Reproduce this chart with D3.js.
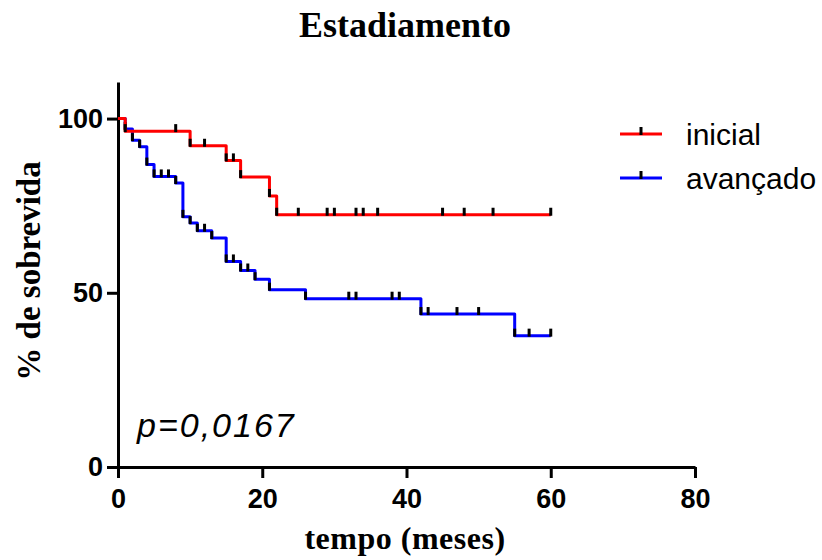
<!DOCTYPE html>
<html>
<head>
<meta charset="utf-8">
<script src="https://cdn.jsdelivr.net/npm/d3@7"></script>
<style>
  body { margin: 0; background: #fff; }
  svg text { fill: #000; }
</style>
</head>
<body>
<div id="chart"></div>
<script>
// survival steps (time in months, % survival after the drop)
var redTimes = [0, 1, 10, 15, 17, 21, 22];
var redSurv = [100, 96.4, 92.2, 88.0, 83.2, 77.8, 72.4];
var redCensor = [8, 12, 16, 25, 29, 30, 33, 34, 36, 45, 48, 52, 60];

var blueTimes = [0, 1, 2, 3, 4, 5, 8, 9, 10, 11, 13, 15, 17, 19, 21, 26, 42, 55];
var blueSurv = [100, 97.0, 93.8, 91.9, 86.8, 83.4, 81.5, 71.8, 70.0, 67.8, 65.7, 59.0, 56.4, 53.9, 50.9, 48.3, 43.9, 37.7];
var blueCensor = [6, 7, 12, 16, 18, 32, 33, 38, 39, 43, 47, 50, 57, 60];

var endTime = 60;
var xTicks = [0, 20, 40, 60, 80];
var yTicks = [0, 50, 100];
var groups = ["inicial", "avançado"];
var colors = ["#ff0000", "#0000ff"];

var width = 822, height = 560;

var svg = d3.select("#chart")
  .append("svg")
  .attr("width", width)
  .attr("height", height);

var x = d3.scaleLinear().domain([0, 80]).range([118, 695]);
var y = d3.scaleLinear().domain([0, 110.5]).range([467, 82]);

// title
svg.append("text")
  .attr("x", 405)
  .attr("y", 37)
  .attr("text-anchor", "middle")
  .style("font-family", "'Liberation Serif', 'Times New Roman', serif")
  .style("font-weight", "bold")
  .style("font-size", "36px")
  .text("Estadiamento");

// axes
var yAxis = svg.append("g")
  .attr("transform", "translate(" + x(0) + ",0)")
  .call(d3.axisLeft(y).tickValues(yTicks).tickSize(11).tickSizeOuter(0).tickPadding(4));

var xAxis = svg.append("g")
  .attr("transform", "translate(0," + y(0) + ")")
  .call(d3.axisBottom(x).tickValues(xTicks).tickSize(11).tickSizeOuter(0).tickPadding(11));

[yAxis, xAxis].forEach(function(a) {
  a.select(".domain").attr("stroke", "#000").attr("stroke-width", 3);
  a.selectAll(".tick line").attr("stroke", "#000").attr("stroke-width", 3);
  a.selectAll(".tick text")
    .style("font-family", "'Liberation Sans', Arial, sans-serif")
    .style("font-weight", "bold")
    .style("font-size", "27px")
    .attr("fill", "#000");
});

// axis titles
svg.append("text")
  .attr("x", 405)
  .attr("y", 549)
  .attr("text-anchor", "middle")
  .style("font-family", "'Liberation Serif', 'Times New Roman', serif")
  .style("font-weight", "bold")
  .style("font-size", "32px")
  .style("letter-spacing", "0.5px")
  .text("tempo (meses)");

svg.append("text")
  .attr("transform", "translate(40,271) rotate(-90)")
  .attr("text-anchor", "middle")
  .style("font-family", "'Liberation Serif', 'Times New Roman', serif")
  .style("font-weight", "bold")
  .style("font-size", "33px")
  .text("% de sobrevida");

// curves
var line = d3.line()
  .x(function(d) { return x(d[0]); })
  .y(function(d) { return y(d[1]); })
  .curve(d3.curveStepAfter);

function levelAt(times, surv, t) {
  var v = surv[0];
  for (var i = 0; i < times.length; i++) {
    if (times[i] <= t) v = surv[i];
  }
  return v;
}

function drawCurve(times, surv, censor, color) {
  var pts = times.map(function(t, i) { return [t, surv[i]]; });
  pts.push([endTime, surv[surv.length - 1]]);

  svg.append("path")
    .datum(pts)
    .attr("fill", "none")
    .attr("stroke", color)
    .attr("stroke-width", 3)
    .attr("stroke-linejoin", "round")
    .attr("d", line);

  // ticks at every drop (new level) and every censored time
  var marks = pts.slice(1, pts.length - 1).concat(censor.map(function(t) {
    return [t, levelAt(times, surv, t)];
  }));

  svg.append("g")
    .selectAll("rect")
    .data(marks)
    .join("rect")
      .attr("x", function(d) { return x(d[0]) - 1.5; })
      .attr("y", function(d) { return y(d[1]) - 7; })
      .attr("width", 3)
      .attr("height", 8)
      .attr("fill", "#000");
}

drawCurve(blueTimes, blueSurv, blueCensor, colors[1]);
drawCurve(redTimes, redSurv, redCensor, colors[0]);

// legend
var legend = svg.append("g");
groups.forEach(function(g, i) {
  var ly = 134 + i * 44;
  legend.append("line")
    .attr("x1", 620).attr("x2", 662)
    .attr("y1", ly).attr("y2", ly)
    .attr("stroke", colors[i])
    .attr("stroke-width", 3);
  legend.append("rect")
    .attr("x", 639.5).attr("y", ly - 7)
    .attr("width", 3).attr("height", 8)
    .attr("fill", "#000");
  legend.append("text")
    .attr("x", 686)
    .attr("y", ly + 11)
    .style("font-family", "'Liberation Sans', Arial, sans-serif")
    .style("font-size", "30px")
    .text(g);
});

// p value
svg.append("text")
  .attr("x", 137)
  .attr("y", 437)
  .style("font-family", "'Liberation Sans', Arial, sans-serif")
  .style("font-style", "italic")
  .style("font-size", "34px")
  .style("letter-spacing", "2px")
  .text("p=0,0167");
</script>
</body>
</html>
